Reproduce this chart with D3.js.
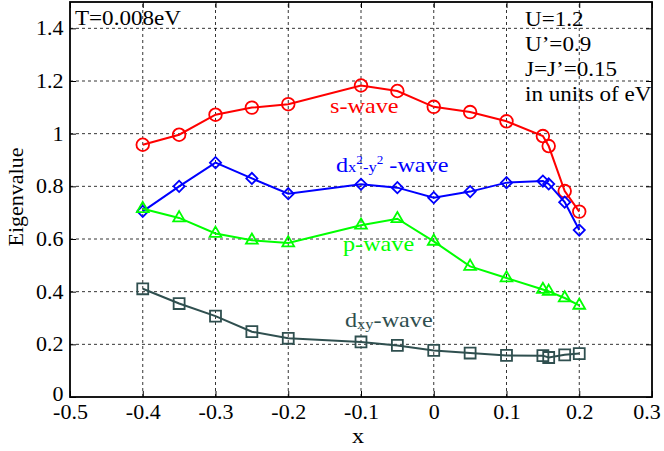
<!DOCTYPE html>
<html>
<head>
<meta charset="utf-8">
<script src="https://cdn.jsdelivr.net/npm/d3@7"></script>
<style>
  body { margin: 0; background: #fff; }
  svg { display: block; }
  text { font-family: "Liberation Serif", "DejaVu Serif", serif; }
</style>
</head>
<body>
<div class="canvas"></div>
<script>
// data
const xs = [-0.4, -0.35, -0.3, -0.25, -0.2, -0.1, -0.05, 0, 0.05, 0.1, 0.15, 0.158, 0.18, 0.2];
const sWave = [0.958, 0.996, 1.072, 1.099, 1.112, 1.183, 1.162, 1.102, 1.082, 1.047, 0.991, 0.953, 0.782, 0.704];
const dx2y2Wave = [0.705, 0.80, 0.890, 0.830, 0.772, 0.808, 0.795, 0.757, 0.780, 0.814, 0.820, 0.809, 0.740, 0.634];
const pWave = [0.715, 0.680, 0.621, 0.595, 0.585, 0.652, 0.677, 0.591, 0.496, 0.452, 0.408, 0.401, 0.376, 0.348];
const dxyWave = [0.411, 0.355, 0.307, 0.248, 0.223, 0.209, 0.196, 0.177, 0.167, 0.158, 0.157, 0.150, 0.160, 0.165];
const xTicks = [-0.5, -0.4, -0.3, -0.2, -0.1, 0, 0.1, 0.2, 0.3];
const yTicks = [0, 0.2, 0.4, 0.6, 0.8, 1, 1.2, 1.4];
const params = ["U=1.2", "U\u2019=0.9", "J=J\u2019=0.15", "in units of eV"];

const width = 664, height = 451;
const margin = { left: 70, right: 12, top: 2, bottom: 54 };
const SX = 1.1; // the picture's text is a little wide

const svg = d3.select(".canvas").append("svg")
  .attr("width", width)
  .attr("height", height);

const x = d3.scaleLinear().domain([-0.5, 0.3]).range([margin.left, width - margin.right]);
const y = d3.scaleLinear().domain([0, 1.5]).range([height - margin.bottom, margin.top]);

const x0 = x.range()[0], x1 = x.range()[1];
const y0 = y.range()[0], y1 = y.range()[1];

function label(px, py, size, color) {
  return svg.append("text")
    .attr("transform", `translate(${px},${py}) scale(${SX},1)`)
    .attr("font-size", size)
    .attr("fill", color || "#000");
}

// grid
const grid = svg.append("g")
  .attr("stroke", "#000")
  .attr("stroke-width", 0.8)
  .attr("stroke-dasharray", "3,3");

grid.selectAll(".gx")
  .data(xTicks.slice(1, -1))
  .enter()
  .append("line")
  .attr("x1", (d) => x(d))
  .attr("x2", (d) => x(d))
  .attr("y1", y0)
  .attr("y2", y1);

grid.selectAll(".gy")
  .data(yTicks.slice(1))
  .enter()
  .append("line")
  .attr("x1", x0)
  .attr("x2", x1)
  .attr("y1", (d) => y(d))
  .attr("y2", (d) => y(d));

// axes
const fmt = (d) => (d === 0 ? "0" : String(d));

const xAxis = svg.append("g")
  .attr("transform", `translate(0,${y0})`)
  .call(d3.axisBottom(x).tickValues(xTicks).tickFormat(fmt).tickSize(-6).tickPadding(7.5));
xAxis.select(".domain").remove();
xAxis.selectAll("text")
  .attr("font-size", 20)
  .attr("fill", "#000")
  .attr("font-family", "Liberation Serif")
  .attr("transform", `scale(${SX},1)`);
xAxis.selectAll(".tick:last-of-type text").attr("x", -5);

const yAxis = svg.append("g")
  .attr("transform", `translate(${x0},0)`)
  .call(d3.axisLeft(y).tickValues(yTicks).tickFormat(fmt).tickSize(-6).tickPadding(6));
yAxis.select(".domain").remove();
yAxis.selectAll("text")
  .attr("font-size", 20)
  .attr("fill", "#000")
  .attr("font-family", "Liberation Serif")
  .attr("transform", `scale(${SX},1)`);
yAxis.selectAll(".tick:first-of-type text").attr("dy", "0.18em");

// ticks on the right and top sides
svg.append("g")
  .attr("transform", `translate(${x1},0)`)
  .call(d3.axisRight(y).tickValues(yTicks).tickSize(-6).tickFormat(""))
  .call((g) => g.select(".domain").remove());

svg.append("g")
  .attr("transform", `translate(0,${y1})`)
  .call(d3.axisTop(x).tickValues(xTicks).tickSize(-6).tickFormat(""))
  .call((g) => g.select(".domain").remove());

svg.append("rect")
  .attr("x", x0)
  .attr("y", y1)
  .attr("width", x1 - x0)
  .attr("height", y0 - y1)
  .attr("fill", "none")
  .attr("stroke", "#000")
  .attr("stroke-width", 1.8);

// series
const line = d3.line().x((d) => x(d[0])).y((d) => y(d[1]));

function drawSeries(vals, color, shape) {
  const pts = xs.map((v, i) => [v, vals[i]]);
  svg.append("path")
    .datum(pts)
    .attr("d", line)
    .attr("fill", "none")
    .attr("stroke", color)
    .attr("stroke-width", 2);

  svg.append("g")
    .selectAll("path")
    .data(pts)
    .enter()
    .append("path")
    .attr("d", d3.symbol().type(shape.type).size(shape.size))
    .attr("transform", (d) => `translate(${x(d[0])},${y(d[1])})${shape.rotate ? " rotate(45)" : ""}`)
    .attr("fill", "none")
    .attr("stroke", color)
    .attr("stroke-width", 1.8);
}

drawSeries(sWave, "#ff0000", { type: d3.symbolCircle, size: 125 });
drawSeries(dx2y2Wave, "#0000ff", { type: d3.symbolSquare, size: 62, rotate: true });
drawSeries(pWave, "#00ff00", { type: d3.symbolTriangle, size: 60 });
drawSeries(dxyWave, "#2f4f4f", { type: d3.symbolSquare, size: 120 });

// series labels
label(330, 113, 22, "#ff0000").text("s-wave");

const tb = label(336, 172, 22, "#0000ff");
tb.append("tspan").text("d");
tb.append("tspan").attr("font-size", 15).text("x");
tb.append("tspan").attr("font-size", 12).attr("dy", -8).text("2");
tb.append("tspan").attr("font-size", 15).attr("dy", 8).text("-y");
tb.append("tspan").attr("font-size", 12).attr("dy", -8).text("2");
tb.append("tspan").attr("dy", 8).text(" -wave");

label(343, 251, 22, "#00ff00").text("p-wave");

const tx = label(345, 327, 22, "#2f4f4f");
tx.append("tspan").text("d");
tx.append("tspan").attr("font-size", 15).attr("dy", 2).text("xy");
tx.append("tspan").attr("dy", -2).text("-wave");

// annotations
label(75, 24.5, 21).text("T=0.008eV");

params.forEach((d, i) => {
  label(525, 25.5 + i * 25, 21).text(d);
});

// axis titles
label(358, 443, 22).attr("text-anchor", "middle").text("x");

svg.append("text")
  .attr("transform", "translate(23,197) rotate(-90)")
  .attr("text-anchor", "middle")
  .attr("font-size", 22)
  .text("Eigenvalue");
</script>
</body>
</html>
